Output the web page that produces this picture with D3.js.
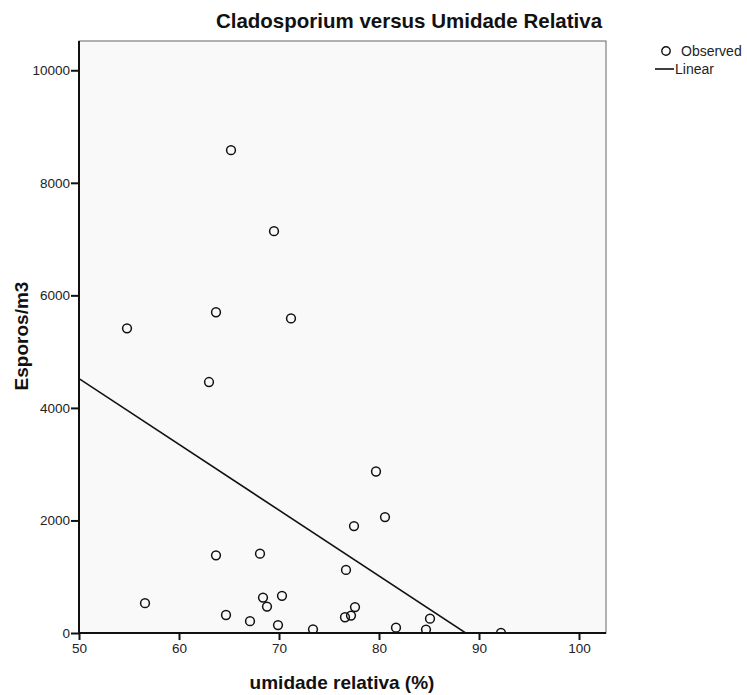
<!DOCTYPE html>
<html>
<head>
<meta charset="utf-8">
<script src="https://cdn.jsdelivr.net/npm/d3@7"></script>
<style>
  body { margin: 0; background: #fff; }
  svg { font-family: "Liberation Sans", Arial, sans-serif; }
</style>
</head>
<body>
<div id="chart"></div>
<script>
// relative humidity (%) of each sample
const humidity = [65.2, 69.5, 63.7, 71.2, 54.8, 63.0, 79.7, 80.6, 77.5, 63.7,
                  68.1, 76.7, 56.6, 68.4, 70.3, 68.8, 64.7, 67.1, 69.9, 73.4,
                  76.6, 77.2, 77.6, 81.7, 85.1, 84.7, 92.2];
// spores per m3 for the same samples
const spores = [8580, 7140, 5700, 5590, 5415, 4460, 2870, 2060, 1900, 1380,
                1410, 1120, 530, 630, 660, 470, 320, 210, 140, 65,
                280, 310, 460, 95, 255, 60, 0];
// linear fit: spores = intercept + slope * humidity
const intercept = 10366;
const slope = -116.9;

const xTicks = [50, 60, 70, 80, 90, 100];
const yTicks = [0, 2000, 4000, 6000, 8000, 10000];

const width = 747, height = 695;
const margin = { top: 41, right: 141, bottom: 62, left: 79 };
const innerWidth = width - margin.left - margin.right;
const innerHeight = height - margin.top - margin.bottom;

const svg = d3.select("#chart").append("svg")
  .attr("width", width)
  .attr("height", height);

const g = svg.append("g")
  .attr("transform", `translate(${margin.left},${margin.top})`);

const x = d3.scaleLinear().domain([50, 102.7]).range([0, innerWidth]);
const y = d3.scaleLinear().domain([0, 10520]).range([innerHeight, 0]);

// plot background and frame
g.append("rect")
  .attr("width", innerWidth)
  .attr("height", innerHeight)
  .attr("fill", "#f9f9f9")
  .attr("stroke", "#666")
  .attr("stroke-width", 1);

g.append("clipPath").attr("id", "plot-clip")
  .append("rect")
  .attr("width", innerWidth)
  .attr("height", innerHeight);

const plot = g.append("g").attr("clip-path", "url(#plot-clip)");

// fit line across the full x range
const [x0, x1] = x.domain();
plot.append("line")
  .attr("x1", x(x0)).attr("y1", y(intercept + slope * x0))
  .attr("x2", x(x1)).attr("y2", y(intercept + slope * x1))
  .attr("stroke", "#111")
  .attr("stroke-width", 1.6);

// observed points
plot.selectAll("circle.obs")
  .data(humidity.map((h, i) => ({ h, s: spores[i] })))
  .enter().append("circle")
  .attr("class", "obs")
  .attr("cx", d => x(d.h))
  .attr("cy", d => y(d.s))
  .attr("r", 4.4)
  .attr("fill", "none")
  .attr("stroke", "#111")
  .attr("stroke-width", 1.5);

// axes
const xAxis = g.append("g")
  .attr("transform", `translate(0,${innerHeight})`)
  .call(d3.axisBottom(x).tickValues(xTicks).tickFormat(d3.format("d"))
    .tickSize(7).tickSizeOuter(0).tickPadding(3));
const yAxis = g.append("g")
  .call(d3.axisLeft(y).tickValues(yTicks).tickFormat(d3.format("d"))
    .tickSize(8).tickSizeOuter(0).tickPadding(1));

[xAxis, yAxis].forEach(ax => {
  ax.select(".domain").attr("stroke", "#111").attr("stroke-width", 2);
  ax.selectAll(".tick line").attr("stroke", "#111").attr("stroke-width", 2);
  ax.selectAll(".tick text")
    .attr("fill", "#222")
    .style("font-size", "13.5px")
    .style("font-family", "'Liberation Sans', Arial, sans-serif");
});
yAxis.select(".domain").attr("d", `M0,${innerHeight + 0.5}V0`);
xAxis.select(".domain").attr("d", `M-0.5,0H${innerWidth}`);

// title and axis labels
svg.append("text")
  .attr("x", 409)
  .attr("y", 28)
  .attr("text-anchor", "middle")
  .attr("font-weight", "bold")
  .attr("font-size", 20.5)
  .attr("fill", "#111")
  .text("Cladosporium versus Umidade Relativa");

svg.append("text")
  .attr("x", 342)
  .attr("y", 689)
  .attr("text-anchor", "middle")
  .attr("font-weight", "bold")
  .attr("font-size", 19)
  .attr("fill", "#111")
  .text("umidade relativa (%)");

svg.append("text")
  .attr("transform", "rotate(-90)")
  .attr("x", -336)
  .attr("y", 28)
  .attr("text-anchor", "middle")
  .attr("font-weight", "bold")
  .attr("font-size", 19)
  .attr("fill", "#111")
  .text("Esporos/m3");

// legend
const legend = svg.append("g").attr("transform", "translate(655,51)");
legend.append("circle")
  .attr("cx", 11).attr("cy", 0).attr("r", 4.2)
  .attr("fill", "none").attr("stroke", "#111").attr("stroke-width", 1.4);
legend.append("text")
  .attr("x", 26).attr("y", 5)
  .attr("font-size", 14).attr("fill", "#222")
  .text("Observed");
legend.append("line")
  .attr("x1", 0).attr("x2", 19).attr("y1", 18).attr("y2", 18)
  .attr("stroke", "#111").attr("stroke-width", 1.6);
legend.append("text")
  .attr("x", 20).attr("y", 23)
  .attr("font-size", 14).attr("fill", "#222")
  .text("Linear");
</script>
</body>
</html>
